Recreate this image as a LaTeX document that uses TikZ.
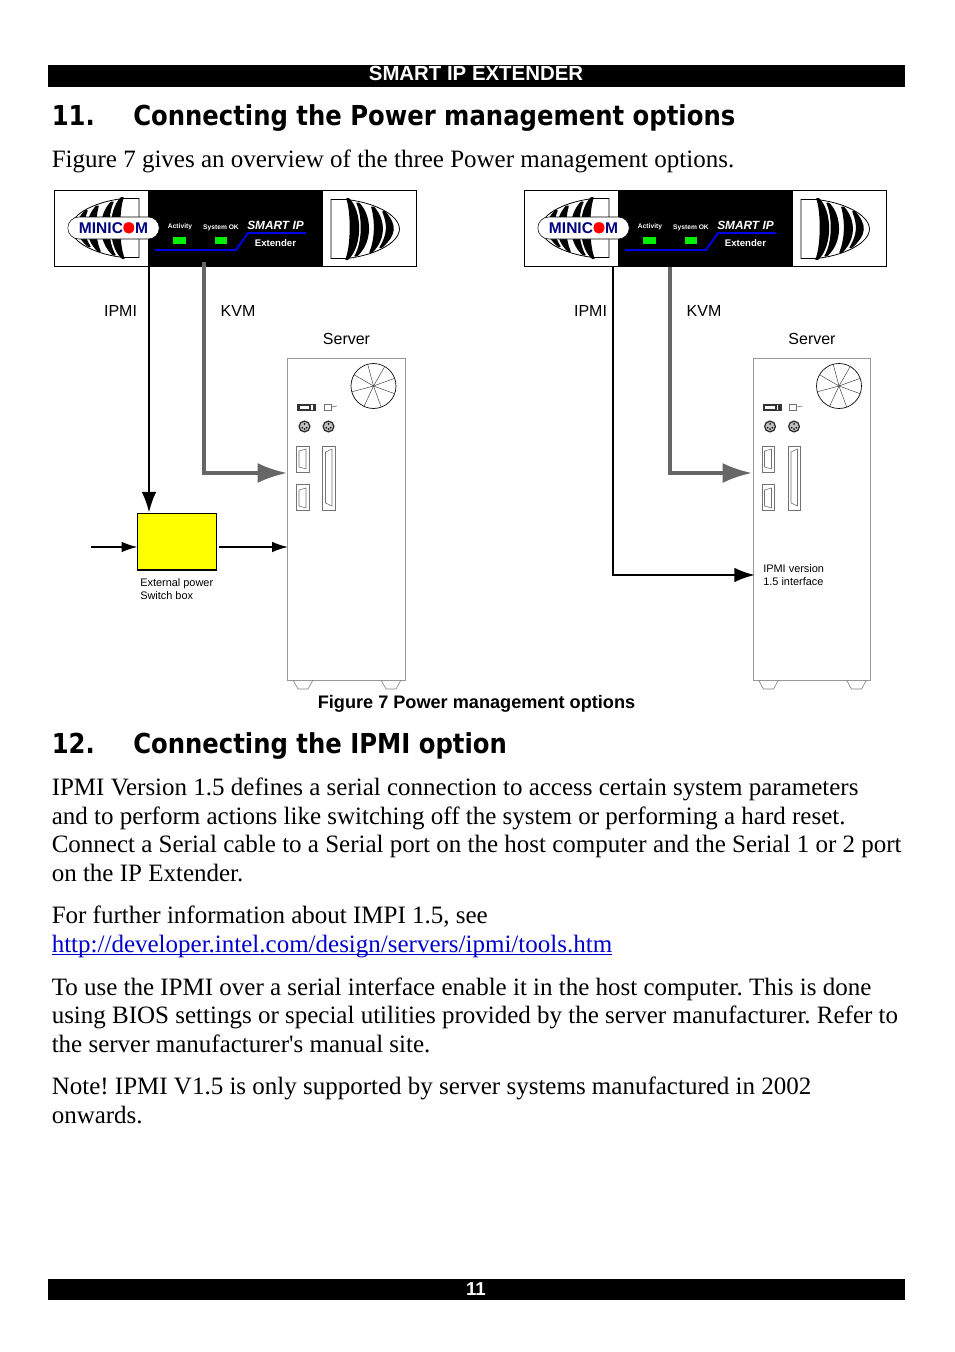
\documentclass[tikz,border=0pt]{standalone}
\usepackage{fontspec}
\setmainfont[Ligatures=TeXOff]{Liberation Serif}
\newfontfamily\arial{Liberation Sans}
\newfontfamily\verd[FakeStretch=0.885]{DejaVu Sans}
\newcommand\fs[1]{\fontsize{#1}{#1}\selectfont}
\definecolor{srvgray}{HTML}{999999}
\definecolor{kvmgray}{HTML}{666666}
\definecolor{navy2}{HTML}{000080}
\definecolor{linkblue}{HTML}{0000CC}
\definecolor{ledgreen}{HTML}{00F000}
\definecolor{boxyellow}{HTML}{FFFF00}
\definecolor{lineblue}{HTML}{0000E6}
\usetikzlibrary{arrows.meta}
\tikzset{
 body/.style={anchor=base west,inner sep=0pt,font=\frenchspacing\fs{18.75}},
 head/.style={anchor=base west,inner sep=0pt,font=\verd\bfseries\fs{20.6}},
 lab/.style={anchor=base,inner sep=0pt,font=\arial\fs{12}},
 small/.style={anchor=base west,inner sep=0pt,font=\arial\fs{8.2}},
 bar/.style={fill=black,draw=none},
 led/.style={fill=ledgreen,draw=none},
 port/.style={draw=black!55,line width=.45pt},
 ipmi/.style={draw=black,line width=1.5pt,-{Latex[length=15.5pt,width=11pt]}},
 ipmib/.style={draw=black,line width=1.9pt,-{Latex[length=15.5pt,width=11pt]}},
 ipmis/.style={draw=black,line width=1.2pt,-{Latex[length=12pt,width=8pt]}},
 kvm/.style={draw=kvmgray,line width=2.7pt,-{Latex[length=22pt,width=15pt]}},
}
\newcommand\crescent[6]{%
 \fill[black,rounded corners=.6pt] (#1,#2) .. controls (#5,#2+14) and (#5,#4-14) .. (#3,#4)
   -- (#3-3,#4) .. controls (#6,#4-14) and (#6,#2+14) .. (#1-3,#2) -- cycle;}
\newcommand\logoshape{%
 \draw[line width=.6pt] (331,199.5) -- (346,199.5) .. controls (372,202) and (399,214) .. (399.5,229) .. controls (399,244) and (372,256) .. (346,258.5) -- (331,258.5) -- cycle;
 \crescent{349}{198}{348}{260}{362.5}{351}
 \crescent{359}{202.5}{357}{256.5}{372.5}{362.5}
 \crescent{374}{206.5}{372}{253}{386}{375}
 \crescent{385}{211}{382}{248}{397}{387.5}
}
\newcommand\extender{%
 \draw[line width=.6pt,fill=white] (54,190.5) rectangle (416.5,266.5);
 \fill[black] (148,190) rectangle (323,267);
 \begin{scope}[shift={(470,-1)},xscale=-1]\logoshape\end{scope}
 \logoshape
 \node[draw=black,line width=.4pt,fill=white,rounded corners=8.2pt,minimum width=68.5pt,minimum height=16.5pt,inner sep=0pt,font=\arial\bfseries\fs{11.65}] (logotext) at (113.5,228) {\textcolor{navy2}{MINIC}\textcolor{red}{O}\textcolor{navy2}{M}};
 \fill[red] (129,228.3) circle (5.2);
 \fill[led] (173,237) rectangle (186,244);
 \fill[led] (215,237) rectangle (227,244);
 \draw[lineblue,line width=1.5pt] (155,250) -- (236,250) -- (248,233) -- (306,233);
 \node[anchor=base,inner sep=0pt,text=white,font=\arial\bfseries\fs{5}] (act) at (180,228) {Activity};
 \node[anchor=base,inner sep=0pt,text=white,font=\arial\bfseries\fs{5}] (sok) at (221,229) {System OK};
 \node[anchor=base,inner sep=0pt,text=white,font=\arial\itshape\bfseries\fs{8.9}] (sip) at (275.5,229) {SMART IP};
 \node[anchor=base,inner sep=0pt,text=white,font=\arial\bfseries\fs{7.2}] (ext) at (275.5,246) {Extender};
}
\newcommand\server{%
 \draw[srvgray,line width=.65pt] (287.7,358.5) rectangle (405,680);
 \draw[black!50,line width=.45pt] (293,680) -- (298,689) -- (308,689) -- (313,680);
 \draw[black!50,line width=.45pt] (381,680) -- (386,689) -- (396,689) -- (401,680);
 \draw[black,line width=.5pt] (373.5,386) circle (22.5);
 \foreach \a in {20,70,115,165,210,255,300,340}{\draw[black!75,line width=.35pt] (373.5,386) -- ++(\a:22.5);}
 \fill[black!80] (297,403.5) rectangle (316,411);
 \fill[white] (299.5,405.5) rectangle (309,408.5);
 \fill[white] (311,405) rectangle (312.5,409.5);
 \draw[port] (324,404) rectangle (331,410);
 \draw[port] (331,407) -- (337,406);
 \foreach \x in {304.5,328.5}{
  \draw[black!85,line width=.9pt,fill=black!25] (\x,426.5) circle (5.4);
  \foreach \a in {30,150,270,90}{\fill[black] (\x,426.5) ++(\a:2.6) circle (.9);}
 }
 \draw[port] (296.5,446) rectangle (309,472);
 \draw[port] (299,451) -- (306,449) -- (306,469) -- (299,467) -- cycle;
 \draw[port] (296.5,484.5) rectangle (309,510);
 \draw[port] (299,490) -- (306,488) -- (306,508) -- (299,506) -- cycle;
 \draw[port] (322.5,446) rectangle (335,510);
 \draw[port] (325.5,452) -- (332,449) -- (332,506) -- (325.5,503) -- cycle;
}
\begin{document}
\begin{tikzpicture}[x=.75pt,y=-.75pt]
\useasboundingbox (0,0) rectangle (954,1352);
\fill[white] (0,0) rectangle (954,1352);
\fill[bar] (48,65) rectangle (905,87);
\fill[bar] (48,1279) rectangle (905,1300);
\node[anchor=base,inner sep=0pt,text=white,font=\arial\bfseries\fs{15.3}] (hdr) at (476,81) {SMART IP EXTENDER};
\node[anchor=base,inner sep=0pt,text=white,font=\arial\bfseries\fs{14}] (pg) at (476,1295) {11};
\node[head] (h11n) at (51.5,126) {11.};
\node[head] (h11) at (133,126) {Connecting the Power management options};
\node[body] (intro) at (51.5,167.5) {Figure 7 gives an overview of the three Power management options.};
\node[head] (h12n) at (51.5,753.5) {12.};
\node[head] (h12) at (133,753.5) {Connecting the IPMI option};
\begin{scope}
 \extender
 \server
\end{scope}
\begin{scope}[shift={(470,0)}]
 \extender
\end{scope}
\begin{scope}[shift={(465.5,0)}]
 \server
\end{scope}
\node[lab] (l1) at (120.5,316) {IPMI};
\node[lab] (l2) at (238,316) {KVM};
\node[lab] (l3) at (346.5,344) {Server};
\node[lab] (r1) at (590.5,316) {IPMI};
\node[lab] (r2) at (704,316) {KVM};
\node[lab] (r3) at (812,344) {Server};
\node[draw=black,line width=1pt,fill=boxyellow,minimum width=59pt,minimum height=42.5pt,inner sep=0pt] (swbox) at (177,541.5) {};
\node[small] (sw1) at (140,586) {External power};
\node[small] (sw2) at (140,599) {Switch box};
\node[small] (ip1) at (763,572) {IPMI version};
\node[small] (ip2) at (763,585) {1.5 interface};
\coordinate (a1) at (149,267);
\coordinate (a2) at (149,512.5);
\coordinate (k1) at (204,262);
\coordinate (k2) at (204,473);
\coordinate (k3) at (287,473);
\coordinate (p1) at (91,547);
\coordinate (p2) at (137.5,547);
\coordinate (p3) at (219,547);
\coordinate (p4) at (288,547);
\coordinate (b1) at (613,267);
\coordinate (b2) at (613,575);
\coordinate (b3) at (755,575);
\coordinate (m1) at (670,267);
\coordinate (m2) at (670,473);
\coordinate (m3) at (752,473);
\draw[ipmi] (a1) -- (a2);
\draw[kvm] (k1) -- (k2) -- (k3);
\draw[ipmis] (p1) -- (p2);
\draw[ipmis] (p3) -- (p4);
\draw[ipmib] (b1) -- (b2) -- (b3);
\draw[kvm] (m1) -- (m2) -- (m3);
\node[anchor=base,inner sep=0pt,font=\arial\bfseries\fs{13.6}] (cap) at (476.5,708) {Figure 7 Power management options};
\node[body] (t1) at (51.5,795) {IPMI Version 1.5 defines a serial connection to access certain system parameters};
\node[body] (t2) at (51.5,824) {and to perform actions like switching off the system or performing a hard reset.};
\node[body] (t3) at (51.5,852.5) {Connect a Serial cable to a Serial port on the host computer and the Serial 1 or 2 port};
\node[body] (t4) at (51.5,881) {on the IP Extender.};
\node[body] (t5) at (51.5,923) {For further information about IMPI 1.5, see};
\node[body,text=linkblue] (t6) at (51.5,952) {\underline{\smash{http://developer.intel.com/design/servers/ipmi/tools.htm}}};
\node[body] (t7) at (51.5,995) {To use the IPMI over a serial interface enable it in the host computer. This is done};
\node[body] (t8) at (51.5,1023.5) {using BIOS settings or special utilities provided by the server manufacturer. Refer to};
\node[body] (t9) at (51.5,1052) {the server manufacturer's manual site.};
\node[body] (t10) at (51.5,1094.5) {Note! IPMI V1.5 is only supported by server systems manufactured in 2002};
\node[body] (t11) at (51.5,1123.5) {onwards.};
\end{tikzpicture}
\end{document}
